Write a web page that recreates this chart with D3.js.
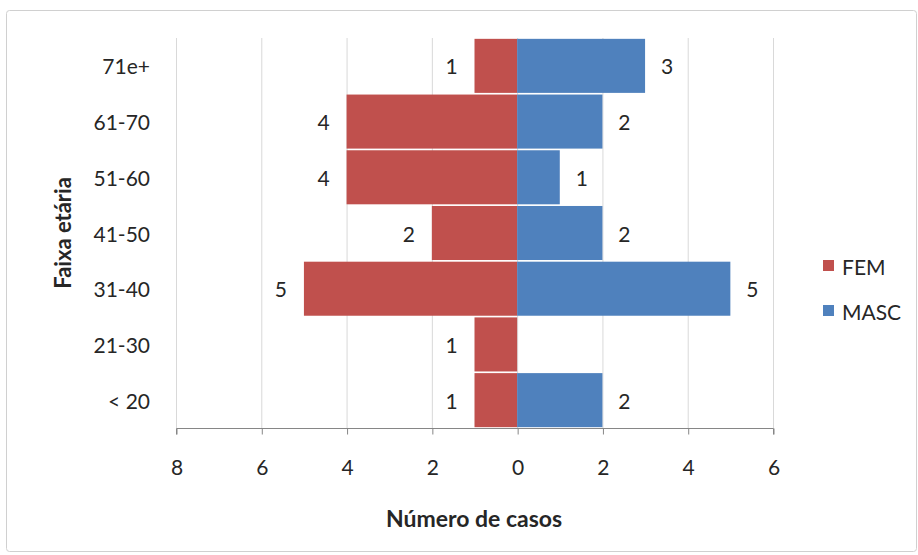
<!DOCTYPE html>
<html>
<head>
<meta charset="utf-8">
<script src="https://cdn.jsdelivr.net/npm/d3@7"></script>
<style>
  html, body { margin: 0; padding: 0; background: #fff; }
  svg { display: block; font-family: Lato, "Open Sans", sans-serif; }
</style>
</head>
<body>
<svg id="chart" width="918" height="555"></svg>
<script>
// Age groups, top to bottom
const categories = ["71e+", "61-70", "51-60", "41-50", "31-40", "21-30", "< 20"];
// Case counts per group
const femValues  = [1, 4, 4, 2, 5, 1, 1];
const mascValues = [3, 2, 1, 2, 5, 0, 2];
const seriesNames = ["FEM", "MASC"];
const xTickValues = [-8, -6, -4, -2, 0, 2, 4, 6];

const colors = { FEM: "#C0504D", MASC: "#4F81BD" };
const textColor = "#262626";

const svg = d3.select("#chart");

// outer frame
svg.append("rect")
  .attr("x", 6.5).attr("y", 10.5)
  .attr("width", 910).attr("height", 541)
  .attr("rx", 3)
  .attr("fill", "#fff")
  .attr("stroke", "#d0d0d0");

const plot = { left: 176, right: 773, top: 38, bottom: 428 };

const x = d3.scaleLinear().domain([-8, 6]).range([plot.left, plot.right]);
const y = d3.scaleBand().domain(categories).range([plot.top, plot.bottom]).paddingInner(0.03).paddingOuter(0.015);

// vertical gridlines
svg.append("g")
  .selectAll("line")
  .data(xTickValues)
  .join("line")
  .attr("x1", d => x(d) + 0.5).attr("x2", d => x(d) + 0.5)
  .attr("y1", plot.top).attr("y2", plot.bottom)
  .attr("stroke", "#d9d9d9")
  .attr("stroke-width", 1);

// bars
const rows = categories.map((c, i) => ({ cat: c, fem: femValues[i], masc: mascValues[i] }));

svg.append("g")
  .selectAll("rect")
  .data(rows)
  .join("rect")
  .attr("x", d => x(-d.fem))
  .attr("width", d => x(0) - x(-d.fem))
  .attr("y", d => y(d.cat))
  .attr("height", y.bandwidth())
  .attr("fill", colors.FEM);

svg.append("g")
  .selectAll("rect")
  .data(rows.filter(d => d.masc > 0))
  .join("rect")
  .attr("x", x(0))
  .attr("width", d => x(d.masc) - x(0))
  .attr("y", d => y(d.cat))
  .attr("height", y.bandwidth())
  .attr("fill", colors.MASC);

// data labels
const labelStyle = sel => sel
  .attr("font-size", 21)
  .attr("fill", textColor)
  .attr("text-anchor", "middle")
  .attr("dominant-baseline", "central");

svg.append("g")
  .selectAll("text")
  .data(rows.filter(d => d.fem > 0))
  .join("text")
  .attr("x", d => x(-d.fem) - 23)
  .attr("y", d => y(d.cat) + y.bandwidth() / 2)
  .call(labelStyle)
  .text(d => d.fem);

svg.append("g")
  .selectAll("text")
  .data(rows.filter(d => d.masc > 0))
  .join("text")
  .attr("x", d => x(d.masc) + 22)
  .attr("y", d => y(d.cat) + y.bandwidth() / 2)
  .call(labelStyle)
  .text(d => d.masc);

// x axis
const xAxis = d3.axisBottom(x)
  .tickValues(xTickValues)
  .tickFormat(d => Math.abs(d))
  .tickSize(6)
  .tickPadding(22);

const gx = svg.append("g")
  .attr("transform", `translate(0.5,${plot.bottom + 0.5})`)
  .call(xAxis);
gx.select(".domain").attr("stroke", "#868686").attr("d", `M${plot.left},6V0H${plot.right}V6`);
gx.selectAll(".tick line").attr("stroke", "#868686");
gx.selectAll(".tick text")
  .attr("y", 38)
  .attr("dy", null)
  .attr("dominant-baseline", "central")
  .attr("font-size", 21)
  .attr("fill", textColor)
  .attr("font-family", "Lato, 'Open Sans', sans-serif");

// category labels
svg.append("g")
  .selectAll("text")
  .data(categories)
  .join("text")
  .attr("x", 150)
  .attr("y", d => y(d) + y.bandwidth() / 2)
  .attr("text-anchor", "end")
  .attr("dominant-baseline", "central")
  .attr("font-size", 21)
  .attr("fill", textColor)
  .text(d => d);

// axis titles
svg.append("text")
  .attr("x", 474).attr("y", 518)
  .attr("text-anchor", "middle")
  .attr("dominant-baseline", "central")
  .attr("font-size", 23)
  .attr("font-weight", "bold")
  .attr("fill", textColor)
  .text("Número de casos");

svg.append("text")
  .attr("transform", "translate(62,233) rotate(-90)")
  .attr("text-anchor", "middle")
  .attr("dominant-baseline", "central")
  .attr("font-size", 22)
  .attr("font-weight", "bold")
  .attr("fill", textColor)
  .text("Faixa etária");

// legend
const legend = svg.append("g")
  .selectAll("g")
  .data(seriesNames)
  .join("g")
  .attr("transform", (d, i) => `translate(823,${266 + i * 45})`);

legend.append("rect")
  .attr("x", 0).attr("y", -6)
  .attr("width", 11).attr("height", 11)
  .attr("fill", d => colors[d]);

legend.append("text")
  .attr("x", 19).attr("y", 0)
  .attr("dominant-baseline", "central")
  .attr("font-size", 21)
  .attr("fill", textColor)
  .text(d => d);
</script>
</body>
</html>
